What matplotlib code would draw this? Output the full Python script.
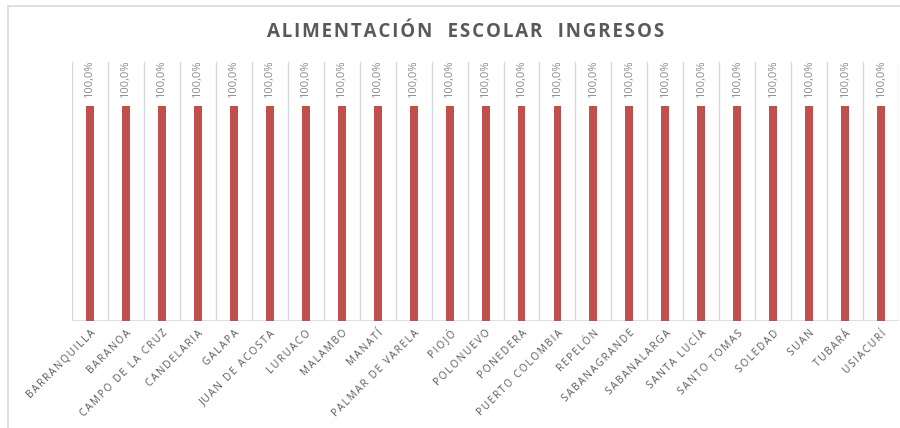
import numpy as np
import matplotlib.pyplot as plt
from matplotlib.patches import Rectangle

municipios = ['BARRANQUILLA', 'BARANOA', 'CAMPO DE LA CRUZ', 'CANDELARIA', 'GALAPA',
              'JUAN DE ACOSTA', 'LURUACO', 'MALAMBO', 'MANATÍ', 'PALMAR DE VARELA',
              'PIOJÓ', 'POLONUEVO', 'PONEDERA', 'PUERTO COLOMBIA', 'REPELÓN',
              'SABANAGRANDE', 'SABANALARGA', 'SANTA LUCÍA', 'SANTO TOMAS', 'SOLEDAD',
              'SUAN', 'TUBARÁ', 'USIACURÍ']
ingresos = [1.0] * 23

rojo = '#C0504D'
gris = '#595959'

plt.rcParams['font.family'] = ['Open Sans', 'DejaVu Sans']

fig = plt.figure(figsize=(9, 4.28), dpi=100)
ax = fig.add_axes([0.08, 0.25, 0.919, 0.605])

# marco del grafico (cortado a la derecha)
fig.patches.append(Rectangle((8 / 900, -0.05), 1.0, 1 - 6 / 428 + 0.05, transform=fig.transFigure,
                             fill=False, edgecolor='#d9d9d9', linewidth=1.2))

x = np.arange(len(municipios))
ax.bar(x, ingresos, width=0.22, color=rojo, zorder=3)

for xi, v in zip(x, ingresos):
    ax.text(xi, v + 0.04, f'{v * 100:.1f}%'.replace('.', ','), rotation=90,
            ha='center', va='bottom', fontsize=8, color='#8c8c8c')

ax.set_xlim(-0.5, len(municipios) - 0.5)
ax.set_ylim(0, 1.205)
ax.set_yticks([])
for b in np.arange(-0.5, len(municipios), 1):
    ax.axvline(b, color='#d9d9d9', linewidth=1, zorder=1)
for s in ax.spines.values():
    s.set_visible(False)
ax.axhline(0, color='#d9d9d9', linewidth=1.2, zorder=2)

ax.set_xticks(x)
ax.set_xticklabels(['\u2009'.join(m) for m in municipios], rotation=45, ha='right',
                   rotation_mode='anchor', fontsize=7.3, color=gris)
ax.tick_params(axis='x', length=0, pad=5)

titulo = 'ALIMENTACIÓN  ESCOLAR  INGRESOS'
fig.text(0.517, 0.925, '\u200a'.join(titulo), ha='center', va='center',
         fontsize=13.5, fontweight='bold', color=gris)

fig.savefig('out.png', dpi=100)
